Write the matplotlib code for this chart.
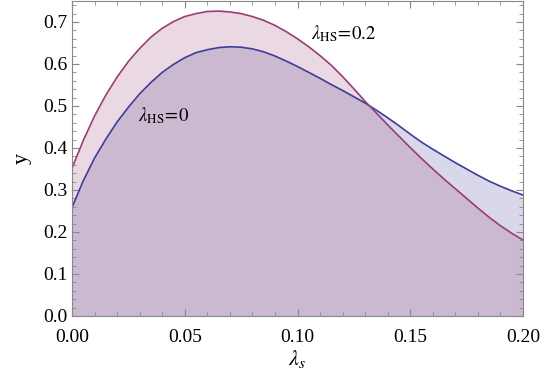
import numpy as np
import matplotlib
matplotlib.use("Agg")
import matplotlib.pyplot as plt
from matplotlib.ticker import MultipleLocator, FormatStrFormatter

lam_s = [0.000, 0.005, 0.010, 0.015, 0.020, 0.025, 0.030, 0.035, 0.040, 0.045,
         0.050, 0.055, 0.060, 0.065, 0.070, 0.075, 0.080, 0.085, 0.090, 0.095,
         0.100, 0.105, 0.110, 0.115, 0.120, 0.125, 0.130, 0.135, 0.140, 0.145,
         0.150, 0.155, 0.160, 0.165, 0.170, 0.175, 0.180, 0.185, 0.190, 0.195,
         0.200]
y_hs0 = [0.258, 0.322, 0.376, 0.421, 0.462, 0.497, 0.529, 0.556, 0.580, 0.599,
         0.615, 0.627, 0.634, 0.639, 0.641, 0.640, 0.636, 0.629, 0.619, 0.607,
         0.594, 0.580, 0.566, 0.551, 0.537, 0.522, 0.507, 0.490, 0.472, 0.453,
         0.433, 0.414, 0.397, 0.381, 0.365, 0.350, 0.335, 0.321, 0.309, 0.298,
         0.288]
y_hs02 = [0.352, 0.418, 0.476, 0.526, 0.569, 0.606, 0.637, 0.664, 0.685, 0.701,
          0.713, 0.720, 0.725, 0.726, 0.724, 0.720, 0.713, 0.704, 0.692, 0.677,
          0.660, 0.641, 0.620, 0.597, 0.570, 0.541, 0.511, 0.483, 0.455, 0.428,
          0.401, 0.375, 0.350, 0.326, 0.303, 0.280, 0.257, 0.235, 0.215, 0.197,
          0.181]
labels = [r'$\lambda_{\rm HS}\!=\!0$', r'$\lambda_{\rm HS}\!=\!0.2$']

plt.rcParams['font.family'] = ['Liberation Serif']
plt.rcParams['mathtext.fontset'] = 'stix'

c_blue = (0.24, 0.24, 0.6)
c_purp = (0.6, 0.24, 0.442)

fig = plt.figure(figsize=(5.45, 3.8), dpi=100)
ax = fig.add_axes([72/545, 1 - 316/380, (523-72)/545, 315/380])

ax.fill_between(lam_s, 0, y_hs0, color=c_blue, alpha=0.2, lw=0)
ax.fill_between(lam_s, 0, y_hs02, color=c_purp, alpha=0.2, lw=0)
ax.plot(lam_s, y_hs0, color=c_blue, lw=1.2)
ax.plot(lam_s, y_hs02, color=c_purp, lw=1.2)

ax.text(0.0405, 0.478, labels[0], fontsize=13.5, ha='center', va='center')
ax.text(0.1205, 0.672, labels[1], fontsize=13.5, ha='center', va='center')

ax.set_xlim(0, 0.2)
ax.set_ylim(0, 0.75)
ax.xaxis.set_major_locator(MultipleLocator(0.05))
ax.xaxis.set_minor_locator(MultipleLocator(0.01))
ax.yaxis.set_major_locator(MultipleLocator(0.1))
ax.yaxis.set_minor_locator(MultipleLocator(0.02))
ax.xaxis.set_major_formatter(FormatStrFormatter('%.2f'))
ax.yaxis.set_major_formatter(FormatStrFormatter('%.1f'))

for s in ax.spines.values():
    s.set_color('#888888')
    s.set_linewidth(0.8)
ax.tick_params(which='both', direction='in', top=True, right=True, colors='#888888',
               labelcolor='black', labelsize=14)
ax.tick_params(which='major', length=5, width=0.8)
ax.tick_params(which='minor', length=3, width=0.6)
ax.tick_params(axis='x', pad=9)

ax.set_xlabel(r'$\lambda_s$', fontsize=16, labelpad=2)
ax.set_ylabel('y', fontsize=16, labelpad=8)

fig.savefig('out.png', dpi=100)
